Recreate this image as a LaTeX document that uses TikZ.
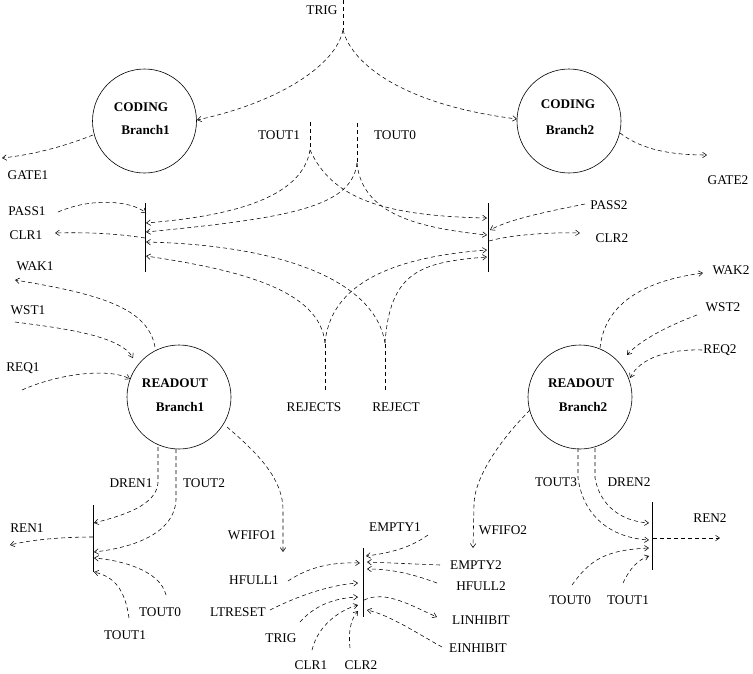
\documentclass[tikz,border=0pt]{standalone}
\usepackage{fontspec}
\setmainfont{Liberation Serif}
\usetikzlibrary{arrows.meta}
\begin{document}
\begin{tikzpicture}[x=1pt,y=-1pt,
  sig/.style={draw, dash pattern=on 4pt off 3pt, line width=0.55pt, -{Straight Barb[length=4pt,width=5.5pt]}},
  plainsig/.style={draw, dash pattern=on 4pt off 3pt, line width=0.55pt},
  lbl/.style={inner sep=0pt, font=\fontsize{13.3}{15}\selectfont},
  blbl/.style={inner sep=0pt, font=\fontsize{13.2}{15}\selectfont\bfseries},
  proc/.style={draw, circle, minimum size=104pt, inner sep=0pt, line width=0.6pt},
  barline/.style={draw, line width=0.7pt}]
\useasboundingbox (0,0) rectangle (753,673);

% ---------- process circles ----------
\node[proc] (cod1) at (144.5,121) {};
\node[proc] (cod2) at (569,121) {};
\node[proc] (rd1) at (179,397) {};
\node[proc] (rd2) at (580,397) {};
\node[blbl] (cod1a) at (141,107) {CODING};
\node[blbl] (cod1b) at (145.5,130) {Branch1};
\node[blbl] (cod2a) at (568,104) {CODING};
\node[blbl] (cod2b) at (570,130) {Branch2};
\node[blbl] (rd1a) at (175,383) {READOUT};
\node[blbl] (rd1b) at (180,407) {Branch1};
\node[blbl] (rd2a) at (581,383) {READOUT};
\node[blbl] (rd2b) at (583,407) {Branch2};

% ---------- bars ----------
\coordinate (b1t) at (145,203); \coordinate (b1b) at (145,272);
\coordinate (b2t) at (488,203); \coordinate (b2b) at (488,272);
\coordinate (b3t) at (93,505);  \coordinate (b3b) at (93,572);
\coordinate (b4t) at (363,548); \coordinate (b4b) at (363,617);
\coordinate (b5t) at (652,502); \coordinate (b5b) at (652,570);
\path[barline] (b1t) -- (b1b);
\path[barline] (b2t) -- (b2b);
\path[barline] (b3t) -- (b3b);
\path[barline] (b4t) -- (b4b);
\path[barline] (b5t) -- (b5b);

% ---------- labels ----------
\node[lbl] (trigT) at (322,10) {TRIG};
\node[lbl] (tout1T) at (279,135) {TOUT1};
\node[lbl] (tout0T) at (395,135) {TOUT0};
\node[lbl] (gate1) at (28,175) {GATE1};
\node[lbl] (gate2) at (728,180) {GATE2};
\node[lbl] (pass1) at (27,211) {PASS1};
\node[lbl] (clr1) at (26,235) {CLR1};
\node[lbl] (wak1) at (35,266) {WAK1};
\node[lbl] (wst1) at (28,310) {WST1};
\node[lbl] (req1) at (23,368) {REQ1};
\node[lbl] (rejs) at (314,407) {REJECTS};
\node[lbl] (rej) at (396,407) {REJECT};
\node[lbl] (pass2) at (609,205) {PASS2};
\node[lbl] (clr2) at (612,238) {CLR2};
\node[lbl] (wak2) at (731,270) {WAK2};
\node[lbl] (wst2) at (723,307) {WST2};
\node[lbl] (req2) at (720,350) {REQ2};
\node[lbl] (dren1) at (131,483) {DREN1};
\node[lbl] (tout2) at (204,483) {TOUT2};
\node[lbl] (ren1) at (27,528) {REN1};
\node[lbl] (wfifo1) at (252,535) {WFIFO1};
\node[lbl] (tout0L) at (160,612) {TOUT0};
\node[lbl] (tout1L) at (125,635) {TOUT1};
\node[lbl] (empty1) at (395,527) {EMPTY1};
\node[lbl] (hfull1) at (254,580) {HFULL1};
\node[lbl] (ltreset) at (238,612) {LTRESET};
\node[lbl] (trigB) at (281,638) {TRIG};
\node[lbl] (clr1B) at (311,665) {CLR1};
\node[lbl] (clr2B) at (361,665) {CLR2};
\node[lbl] (empty2) at (476,565) {EMPTY2};
\node[lbl] (hfull2) at (481,586) {HFULL2};
\node[lbl] (linh) at (481,620) {LINHIBIT};
\node[lbl] (einh) at (478,648) {EINHIBIT};
\node[lbl] (wfifo2) at (503,530) {WFIFO2};
\node[lbl] (tout3) at (556,482) {TOUT3};
\node[lbl] (dren2) at (629,482) {DREN2};
\node[lbl] (ren2) at (710,518) {REN2};
\node[lbl] (tout0R) at (570,600) {TOUT0};
\node[lbl] (tout1R) at (628,600) {TOUT1};

% ---------- connector end points ----------
\coordinate (trigS) at (343,0);   \coordinate (trigM) at (343,30);
\coordinate (c1in) at (197,120);  \coordinate (c2in) at (517,119);
\coordinate (g1s) at (93,135);    \coordinate (g1e) at (2,158);
\coordinate (g2s) at (620,133);   \coordinate (g2e) at (707,155);
\coordinate (t1s) at (310,122);   \coordinate (t1m) at (310,150);
\coordinate (t0s) at (357,123);   \coordinate (t0m) at (357,163);
\coordinate (rjS) at (385,390);   \coordinate (rjM) at (385,343);
\coordinate (rsS) at (325,390);   \coordinate (rsM) at (325,343);
\coordinate (L1) at (146,213); \coordinate (L2) at (146,223); \coordinate (L3) at (146,232);
\coordinate (L4) at (146,242); \coordinate (L5) at (146,256); \coordinate (Lc) at (145,238);
\coordinate (R1) at (487,218); \coordinate (R2) at (487,235); \coordinate (R3) at (487,250);
\coordinate (R4) at (487,257); \coordinate (Rp) at (490,230); \coordinate (Rc) at (489,241);
\coordinate (p1s) at (58,212);  \coordinate (c1e) at (55,233);
\coordinate (wk1s) at (155,347); \coordinate (wk1e) at (15,280);
\coordinate (ws1s) at (15,322);  \coordinate (ws1e) at (133,358);
\coordinate (rq1s) at (22,390);  \coordinate (rq1e) at (130,379);
\coordinate (p2s) at (585,204);  \coordinate (c2e) at (580,233);
\coordinate (wk2s) at (600,348); \coordinate (wk2e) at (703,273);
\coordinate (ws2s) at (697,315); \coordinate (ws2e) at (627,355);
\coordinate (rq2s) at (702,350); \coordinate (rq2e) at (630,378);
% bottom left
\coordinate (dr1s) at (158,447); \coordinate (dr1m) at (158,483); \coordinate (dr1e) at (94,523);
\coordinate (to2s) at (176,449); \coordinate (to2m) at (176,500); \coordinate (to2e) at (94,552);
\coordinate (rn1s) at (93,537);  \coordinate (rn1e) at (10,545);
\coordinate (tl0s) at (166,595); \coordinate (tl0e) at (94,558);
\coordinate (tl1s) at (129,618); \coordinate (tl1e) at (94,572);
\coordinate (wf1s) at (227,427); \coordinate (wf1m) at (283,510); \coordinate (wf1e) at (283,552);
% bottom middle
\coordinate (em1s) at (428,535); \coordinate (em1e) at (366,556);
\coordinate (hf1s) at (288,581); \coordinate (hf1e) at (360,563);
\coordinate (em2s) at (440,565); \coordinate (em2e) at (367,562);
\coordinate (hf2s) at (437,583); \coordinate (hf2e) at (367,569);
\coordinate (ltrs) at (270,610); \coordinate (ltre) at (358,583);
\coordinate (trbs) at (300,622); \coordinate (trbe) at (358,597);
\coordinate (cb1s) at (312,650); \coordinate (cb1e) at (358,605);
\coordinate (cb2s) at (350,648); \coordinate (cb2e) at (358,611);
\coordinate (lis) at (364,600);  \coordinate (lie) at (437,617);
\coordinate (eis) at (442,647);  \coordinate (eie) at (367,610);
\coordinate (wf2s) at (530,410); \coordinate (wf2m) at (474,505); \coordinate (wf2e) at (473,548);
% bottom right
\coordinate (to3s) at (578,448); \coordinate (to3m) at (578,478); \coordinate (to3e) at (649,540);
\coordinate (dr2s) at (595,448); \coordinate (dr2m) at (595,478); \coordinate (dr2e) at (649,523);
\coordinate (rn2s) at (653,538); \coordinate (rn2e) at (720,538);
\coordinate (tr0s) at (572,585); \coordinate (tr0e) at (649,548);
\coordinate (tr1s) at (623,583); \coordinate (tr1e) at (649,556);

% ---------- connectors ----------
% TRIG to coding units
\path[plainsig] (trigS) -- (trigM);
\path[sig] (trigM) .. controls (336,65) and (280,102) .. (c1in);
\path[sig] (trigM) .. controls (352,65) and (405,105) .. (c2in);
\path[sig] (g1s) .. controls (60,148) and (30,155) .. (g1e);
\path[sig] (g2s) .. controls (642,150) and (672,155) .. (g2e);
% TOUT1 / TOUT0 to the upper bars
\path[plainsig] (t1s) -- (t1m);
\path[sig] (t1m) .. controls (302,198) and (232,216) .. (L2);
\path[sig] (t1m) .. controls (332,198) and (382,216) .. (R1);
\path[plainsig] (t0s) -- (t0m);
\path[sig] (t0m) .. controls (352,207) and (290,218) .. (L3);
\path[sig] (t0m) .. controls (362,215) and (420,228) .. (R2);
% REJECT / REJECTS
\path[plainsig] (rjS) -- (rjM);
\path[sig] (rjM) .. controls (375,280) and (280,245) .. (L4);
\path[sig] (rjM) .. controls (390,272) and (420,262) .. (R4);
\path[plainsig] (rsS) -- (rsM);
\path[sig] (rsM) .. controls (320,290) and (240,270) .. (L5);
\path[sig] (rsM) .. controls (330,290) and (380,258) .. (R3);
% left upper bar
\path[sig] (p1s) .. controls (90,198) and (130,200) .. (L1);
\path[sig] (Lc) .. controls (120,234) and (90,232) .. (c1e);
% right upper bar
\path[sig] (p2s) .. controls (550,211) and (510,219) .. (Rp);
\path[sig] (Rc) .. controls (510,235) and (550,232) .. (c2e);
% READOUT 1
\path[sig] (wk1s) .. controls (148,308) and (100,294) .. (wk1e);
\path[sig] (ws1s) .. controls (60,328) and (120,335) .. (ws1e);
\path[sig] (rq1s) .. controls (60,373) and (110,368) .. (rq1e);
% READOUT 2
\path[sig] (wk2s) .. controls (605,300) and (650,280) .. (wk2e);
\path[sig] (ws2s) .. controls (670,325) and (640,340) .. (ws2e);
\path[sig] (rq2s) .. controls (668,349) and (640,358) .. (rq2e);
% bottom left bar
\path[sig] (dr1s) -- (dr1m) .. controls (156,505) and (125,515) .. (dr1e);
\path[sig] (to2s) -- (to2m) .. controls (174,535) and (130,548) .. (to2e);
\path[sig] (rn1s) .. controls (60,537) and (30,540) .. (rn1e);
\path[sig] (tl0s) .. controls (160,570) and (120,560) .. (tl0e);
\path[sig] (tl1s) .. controls (125,590) and (115,577) .. (tl1e);
\path[sig] (wf1s) .. controls (260,455) and (283,480) .. (wf1m) -- (wf1e);
% bottom middle bar
\path[sig] (em1s) .. controls (410,548) and (390,553) .. (em1e);
\path[sig] (hf1s) .. controls (310,566) and (335,562) .. (hf1e);
\path[sig] (em2s) -- (em2e);
\path[sig] (hf2s) .. controls (410,573) and (390,569) .. (hf2e);
\path[sig] (ltrs) .. controls (300,595) and (330,585) .. (ltre);
\path[sig] (trbs) .. controls (315,605) and (335,598) .. (trbe);
\path[sig] (cb1s) .. controls (318,625) and (340,610) .. (cb1e);
\path[sig] (cb2s) .. controls (348,628) and (352,618) .. (cb2e);
\path[sig] (lis) .. controls (385,590) and (410,605) .. (lie);
\path[sig] (eis) .. controls (420,635) and (390,615) .. (eie);
\path[sig] (wf2s) .. controls (500,440) and (474,478) .. (wf2m) -- (wf2e);
% bottom right bar
\path[sig] (to3s) -- (to3m) .. controls (584,520) and (615,538) .. (to3e);
\path[sig] (dr2s) -- (dr2m) .. controls (600,505) and (620,521) .. (dr2e);
\path[sig] (rn2s) -- (rn2e);
\path[sig] (tr0s) .. controls (590,560) and (605,550) .. (tr0e);
\path[sig] (tr1s) .. controls (630,568) and (638,560) .. (tr1e);
\end{tikzpicture}
\end{document}
